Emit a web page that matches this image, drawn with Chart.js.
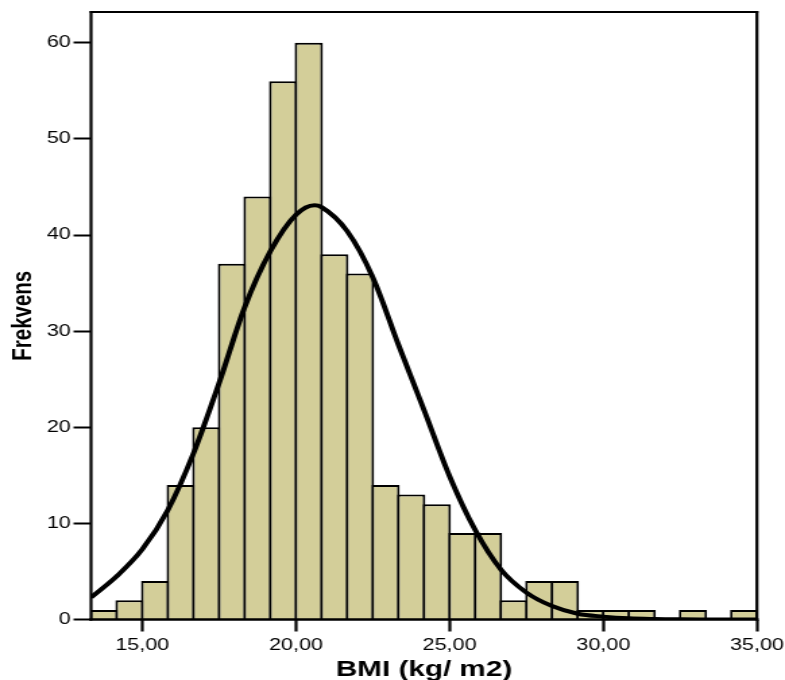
<!DOCTYPE html>
<html lang="no">
<head>
<meta charset="utf-8">
<title>BMI (kg/ m2)</title>
<script src="https://cdn.jsdelivr.net/npm/chart.js@4.4.1/dist/chart.umd.min.js"></script>
<style>
    html, body { margin: 0; padding: 0; background: #fff; overflow: hidden; }
    /* the original figure is stretched sideways, so the canvas is stretched the same way */
    #bmiChart { display: block; transform: scaleX(1.3488); transform-origin: 0 0; }
</style>
</head>
<body>
<canvas id="bmiChart" width="582" height="680"></canvas>
<script>
// Histogram bins: centres (bin width 5/6 kg/m2) and counts
const binCenters = [13.750, 14.583, 15.417, 16.250, 17.083, 17.917, 18.750, 19.583, 20.417,
    21.250, 22.083, 22.917, 23.750, 24.583, 25.417, 26.250, 27.083, 27.917, 28.750, 29.583,
    30.417, 31.250, 32.083, 32.917, 33.750, 34.583];
const binCounts = [1, 2, 4, 14, 20, 37, 44, 56, 60, 38, 36, 14, 13, 12, 9, 9, 2, 4, 4, 1,
    1, 1, 0, 1, 0, 1];

// Normal curve
const curveX = [13.333, 14.167, 15.000, 15.833, 16.667, 17.500, 18.333, 19.167, 20.000, 20.600,
    20.833, 21.667, 22.500, 23.333, 24.167, 25.000, 25.833, 26.667, 27.500, 28.333, 29.167,
    30.000, 30.833, 31.667, 32.500, 33.333, 34.167, 35.000];
const curveY = [2.3, 4.5, 7.3, 11.4, 17.3, 24.6, 32.5, 38.3, 42.1, 43.1,
    42.9, 40.4, 35.6, 28.6, 21.8, 14.9, 9.3, 5.2, 2.8, 1.4, 0.6,
    0.3, 0.12, 0.05, 0.02, 0.01, 0, 0];

// Axis ticks
const xTicks = [15, 20, 25, 30, 35];
const yTicks = [0, 10, 20, 30, 40, 50, 60];

const chartCanvas = document.getElementById('bmiChart');
const tickFont = { family: "'Liberation Sans', Arial, sans-serif", size: 16 };

// Draws the box round the plot area on top of the bars
const framePlugin = {
    id: 'frame',
    afterDatasetsDraw(chart) {
        const { ctx, chartArea } = chart;
        const { left, right, top, bottom } = chartArea;
        ctx.save();
        ctx.strokeStyle = '#000';
        ctx.lineCap = 'square';

        ctx.lineWidth = 2;
        ctx.beginPath();
        ctx.moveTo(left, top);
        ctx.lineTo(right, top);
        ctx.stroke();

        ctx.lineWidth = 2.5;
        ctx.beginPath();
        ctx.moveTo(left, bottom);
        ctx.lineTo(right, bottom);
        ctx.stroke();

        ctx.lineWidth = 2.2;
        ctx.beginPath();
        ctx.moveTo(left, top);
        ctx.lineTo(left, bottom);
        ctx.moveTo(right, top);
        ctx.lineTo(right, bottom);
        ctx.stroke();
        ctx.restore();
    }
};

const chart = new Chart(chartCanvas, {
    type: 'bar',
    data: {
        datasets: [
            {
                type: 'line',
                order: 0,
                data: curveX.map((x, i) => ({ x: x, y: curveY[i] })),
                borderColor: '#000',
                borderWidth: 4,
                pointRadius: 0,
                fill: false,
                cubicInterpolationMode: 'monotone'
            },
            {
                type: 'bar',
                order: 1,
                data: binCenters.map((x, i) => ({ x: x, y: binCounts[i] })),
                backgroundColor: '#d3ce99',
                borderColor: '#000',
                borderWidth: 2,
                inflateAmount: 0,
                // slightly wider than the bin so the inset border sits on the bin edge
                barPercentage: 1.105,
                categoryPercentage: 1
            }
        ]
    },
    options: {
        responsive: false,
        animation: false,
        devicePixelRatio: 1,
        layout: { padding: { top: 12, right: 20.8, left: 0, bottom: 0 } },
        plugins: {
            legend: { display: false },
            tooltip: { enabled: false }
        },
        scales: {
            x: {
                type: 'linear',
                min: 13.3333,
                max: 35,
                offset: false,
                afterBuildTicks: scale => { scale.ticks = xTicks.map(v => ({ value: v })); },
                afterFit: scale => {
                    scale.height = 60.5;
                    scale.paddingLeft = 0;
                    scale.paddingRight = 0;
                },
                ticks: {
                    font: tickFont,
                    color: '#000',
                    padding: 4,
                    maxRotation: 0,
                    autoSkip: false,
                    callback: value => value.toFixed(2).replace('.', ',')
                },
                grid: {
                    offset: false,
                    drawOnChartArea: false,
                    tickLength: 12,
                    tickWidth: 2.2,
                    tickColor: '#000'
                },
                border: { display: false },
                title: {
                    display: true,
                    text: 'BMI (kg/ m2)',
                    color: '#000',
                    font: { family: "'Liberation Sans', Arial, sans-serif", size: 22, weight: 'bold', lineHeight: 0.9 },
                    padding: 0
                }
            },
            y: {
                type: 'linear',
                min: 0,
                max: 63.2,
                afterBuildTicks: scale => { scale.ticks = yTicks.map(v => ({ value: v })); },
                afterFit: scale => {
                    scale.width = 67.5;
                    scale.paddingTop = 0;
                    scale.paddingBottom = 0;
                },
                ticks: {
                    font: tickFont,
                    color: '#000',
                    padding: 2
                },
                grid: {
                    drawOnChartArea: false,
                    tickLength: 13,
                    tickWidth: 2,
                    tickColor: '#000'
                },
                border: { display: false },
                title: {
                    display: true,
                    text: 'Frekvens',
                    color: '#000',
                    font: { family: "'Liberation Sans', Arial, sans-serif", size: 20.5, weight: 'bold', lineHeight: 1.2 },
                    padding: { top: 4.7, bottom: 0 }
                }
            }
        }
    },
    plugins: [framePlugin]
});
</script>
</body>
</html>
